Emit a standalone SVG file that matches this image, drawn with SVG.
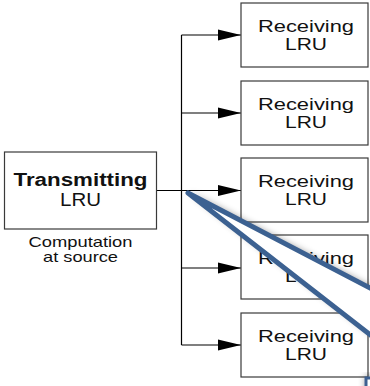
<svg xmlns="http://www.w3.org/2000/svg" width="370" height="386" viewBox="0 0 370 386">
  <defs>
    <style>
      .box { fill: #ffffff; stroke: #3a3a3a; stroke-width: 1.2; }
      .wire { fill: none; stroke: #000000; stroke-width: 1.2; }
      .lbl { font-family: "Liberation Sans", Arial, sans-serif; fill: #111111; text-anchor: middle; }
      .rx { font-size: 17px; }
      .tx { font-size: 17.5px; }
      .note { font-size: 14.5px; }
      .zoom { fill: none; stroke: #3c6191; stroke-width: 5; stroke-linecap: round; }
    </style>
    <marker id="arrow" markerUnits="userSpaceOnUse" viewBox="0 0 23 12" refX="23" refY="6" markerWidth="23" markerHeight="12" orient="auto">
      <path d="M0,0.5 L23,6 L0,11.5 Z" fill="#000000"/>
    </marker>
    <filter id="glow" x="-20%" y="-20%" width="140%" height="140%">
      <feDropShadow dx="1" dy="-1" stdDeviation="3.5" flood-color="#000000" flood-opacity="0.45"/>
    </filter>
  </defs>

  <!-- connectors: feed, trunk and branches -->
  <g id="connectors">
    <path class="wire" d="M156,190.5 H181.5 M181.5,35 V345"/>
    <path class="wire" d="M181.5,35 H241" marker-end="url(#arrow)"/>
    <path class="wire" d="M181.5,113 H241" marker-end="url(#arrow)"/>
    <path class="wire" d="M181.5,190.5 H241" marker-end="url(#arrow)"/>
    <path class="wire" d="M181.5,268 H241" marker-end="url(#arrow)"/>
    <path class="wire" d="M181.5,345 H241" marker-end="url(#arrow)"/>
  </g>

  <!-- source node -->
  <g id="tx">
    <rect class="box" x="4.5" y="152" width="152" height="77"/>
    <text class="lbl tx" x="80.5" y="186" font-weight="bold" textLength="134" lengthAdjust="spacingAndGlyphs">Transmitting</text>
    <text class="lbl tx" x="80.5" y="206" textLength="41" lengthAdjust="spacingAndGlyphs">LRU</text>
    <text class="lbl note" x="80.5" y="247" textLength="104" lengthAdjust="spacingAndGlyphs">Computation</text>
    <text class="lbl note" x="80.5" y="262" textLength="75" lengthAdjust="spacingAndGlyphs">at source</text>
  </g>

  <!-- receiving nodes -->
  <g id="rx1">
    <rect class="box" x="241" y="3" width="127" height="64"/>
    <text class="lbl rx" x="306" y="31.5" textLength="96" lengthAdjust="spacingAndGlyphs">Receiving</text>
    <text class="lbl rx" x="306" y="50" textLength="42" lengthAdjust="spacingAndGlyphs">LRU</text>
  </g>
  <g id="rx2">
    <rect class="box" x="241" y="81" width="127" height="64"/>
    <text class="lbl rx" x="306" y="109.5" textLength="96" lengthAdjust="spacingAndGlyphs">Receiving</text>
    <text class="lbl rx" x="306" y="128" textLength="42" lengthAdjust="spacingAndGlyphs">LRU</text>
  </g>
  <g id="rx3">
    <rect class="box" x="241" y="158" width="127" height="64"/>
    <text class="lbl rx" x="306" y="186.5" textLength="96" lengthAdjust="spacingAndGlyphs">Receiving</text>
    <text class="lbl rx" x="306" y="205" textLength="42" lengthAdjust="spacingAndGlyphs">LRU</text>
  </g>
  <g id="rx4">
    <rect class="box" x="241" y="235" width="127" height="64"/>
    <text class="lbl rx" x="306" y="263.5" textLength="96" lengthAdjust="spacingAndGlyphs">Receiving</text>
    <text class="lbl rx" x="306" y="282" textLength="42" lengthAdjust="spacingAndGlyphs">LRU</text>
  </g>
  <g id="rx5">
    <rect class="box" x="241" y="313" width="127" height="64"/>
    <text class="lbl rx" x="306" y="341.5" textLength="96" lengthAdjust="spacingAndGlyphs">Receiving</text>
    <text class="lbl rx" x="306" y="360" textLength="42" lengthAdjust="spacingAndGlyphs">LRU</text>
  </g>

  <!-- magnifier cone running off to the right, with its soft shadow -->
  <g id="magnifier">
    <polygon points="188,193 395,301 395,354" fill="#ffffff" filter="url(#glow)"/>
    <rect x="366" y="378" width="40" height="30" fill="#ffffff" stroke="#3c6191" stroke-width="3" filter="url(#glow)"/>
    <path class="zoom" d="M188,193 L395,301 M188,193 L395,354"/>
  </g>
</svg>
